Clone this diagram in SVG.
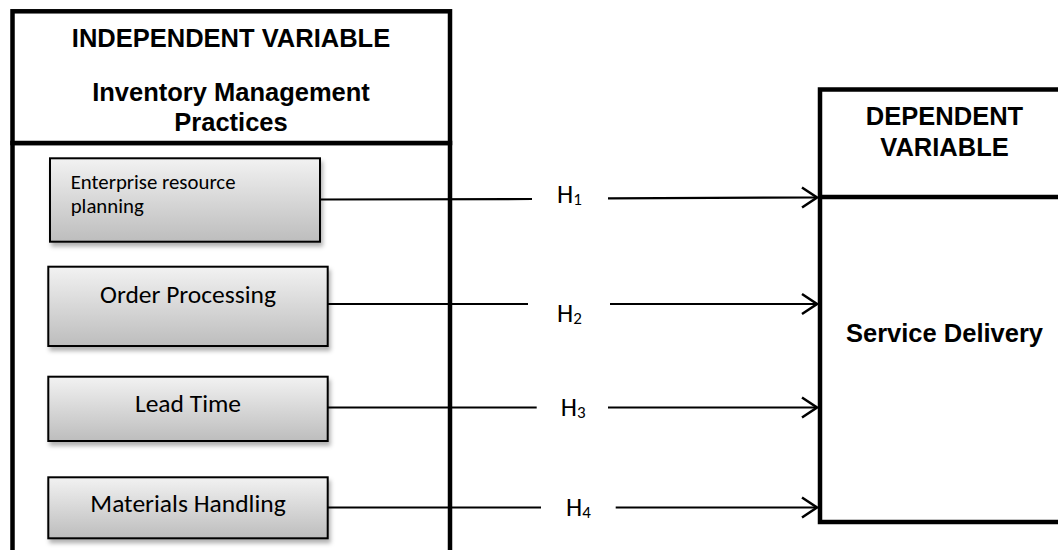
<svg xmlns="http://www.w3.org/2000/svg" width="1058" height="550" viewBox="0 0 1058 550">
<style>
.frame{fill:#fff;stroke:#000;stroke-width:4.5}
.title{font-family:"Liberation Sans",Arial,sans-serif;font-weight:bold;font-size:25.5px;fill:#000;text-anchor:middle}
.box{fill:url(#g);stroke:#000;stroke-width:2;filter:url(#sh)}
.lbl{font-family:Carlito,Calibri,Lato,sans-serif;font-size:25.5px;fill:#000;text-anchor:middle}
.erp{font-family:Carlito,Calibri,Lato,sans-serif;font-size:20.8px;fill:#000}
.h{font-family:Carlito,Calibri,Lato,sans-serif;font-size:26px;fill:#000}
.sub{font-size:17px}
.conn line{stroke:#000;stroke-width:2.2}
</style>
<defs>
<linearGradient id="g" x1="0" y1="0" x2="0" y2="1">
<stop offset="0" stop-color="#f2f2f2"/>
<stop offset="1" stop-color="#bdbdbd"/>
</linearGradient>
<filter id="sh" x="-10%" y="-10%" width="130%" height="140%">
<feDropShadow dx="2" dy="4" stdDeviation="2" flood-color="#000" flood-opacity="0.3"/>
</filter>
<marker id="arr" markerUnits="userSpaceOnUse" viewBox="0 0 18 24" refX="16" refY="12" markerWidth="18" markerHeight="24" orient="auto">
<path d="M1,2 L16,12 L1,22" fill="none" stroke="#000" stroke-width="2.5"/>
</marker>
</defs>
<rect width="1058" height="550" fill="#fff"/>
<g id="independent">
<rect class="frame" x="12.5" y="143" width="437.5" height="430"/>
<rect class="frame" x="12.5" y="11.3" width="437.5" height="131.7"/>
<text class="title" x="231" y="46.7">INDEPENDENT VARIABLE</text>
<text class="title" x="231" y="100.5">Inventory Management</text>
<text class="title" x="231" y="130.7">Practices</text>
</g>
<g id="dependent">
<rect class="frame" x="820" y="89.5" width="260" height="432.5"/>
<line x1="820" y1="197" x2="1058" y2="197" stroke="#000" stroke-width="4.5"/>
<text class="title" x="944.5" y="125">DEPENDENT</text>
<text class="title" x="944.5" y="156">VARIABLE</text>
<text class="title" x="944.5" y="342">Service Delivery</text>
</g>
<g id="erp">
<rect class="box" x="50" y="158.3" width="270" height="83.4"/>
<text class="erp" x="70.7" y="189.3">Enterprise resource</text>
<text class="erp" x="70.7" y="213.3">planning</text>
</g>
<g id="order">
<rect class="box" x="48.3" y="266.7" width="279.4" height="79.3"/>
<text class="lbl" x="188" y="303.3">Order Processing</text>
</g>
<g id="lead">
<rect class="box" x="48.3" y="376.7" width="279.4" height="64.3"/>
<text class="lbl" x="188" y="411.7">Lead Time</text>
</g>
<g id="materials">
<rect class="box" x="48.3" y="477.3" width="279.4" height="61"/>
<text class="lbl" x="188" y="512.3">Materials Handling</text>
</g>
<g id="connectors" class="conn">
<line x1="320" y1="199.5" x2="532" y2="199"/>
<line x1="608" y1="198.3" x2="817" y2="197.5" marker-end="url(#arr)"/>
<line x1="327.7" y1="304" x2="528" y2="304"/>
<line x1="610" y1="304" x2="817" y2="304" marker-end="url(#arr)"/>
<line x1="327.7" y1="407.5" x2="536.7" y2="407.5"/>
<line x1="608" y1="407.5" x2="817" y2="407.5" marker-end="url(#arr)"/>
<line x1="327.7" y1="507.5" x2="541" y2="507.5"/>
<line x1="615.7" y1="507.5" x2="817" y2="507.5" marker-end="url(#arr)"/>
</g>
<g id="labels">
<text class="h" x="557" y="203.3">H<tspan class="sub" dy="1.7">1</tspan></text>
<text class="h" x="557" y="322.3">H<tspan class="sub" dy="1.7">2</tspan></text>
<text class="h" x="560.7" y="416">H<tspan class="sub" dy="2.3">3</tspan></text>
<text class="h" x="566" y="516">H<tspan class="sub" dy="2">4</tspan></text>
</g>
</svg>
